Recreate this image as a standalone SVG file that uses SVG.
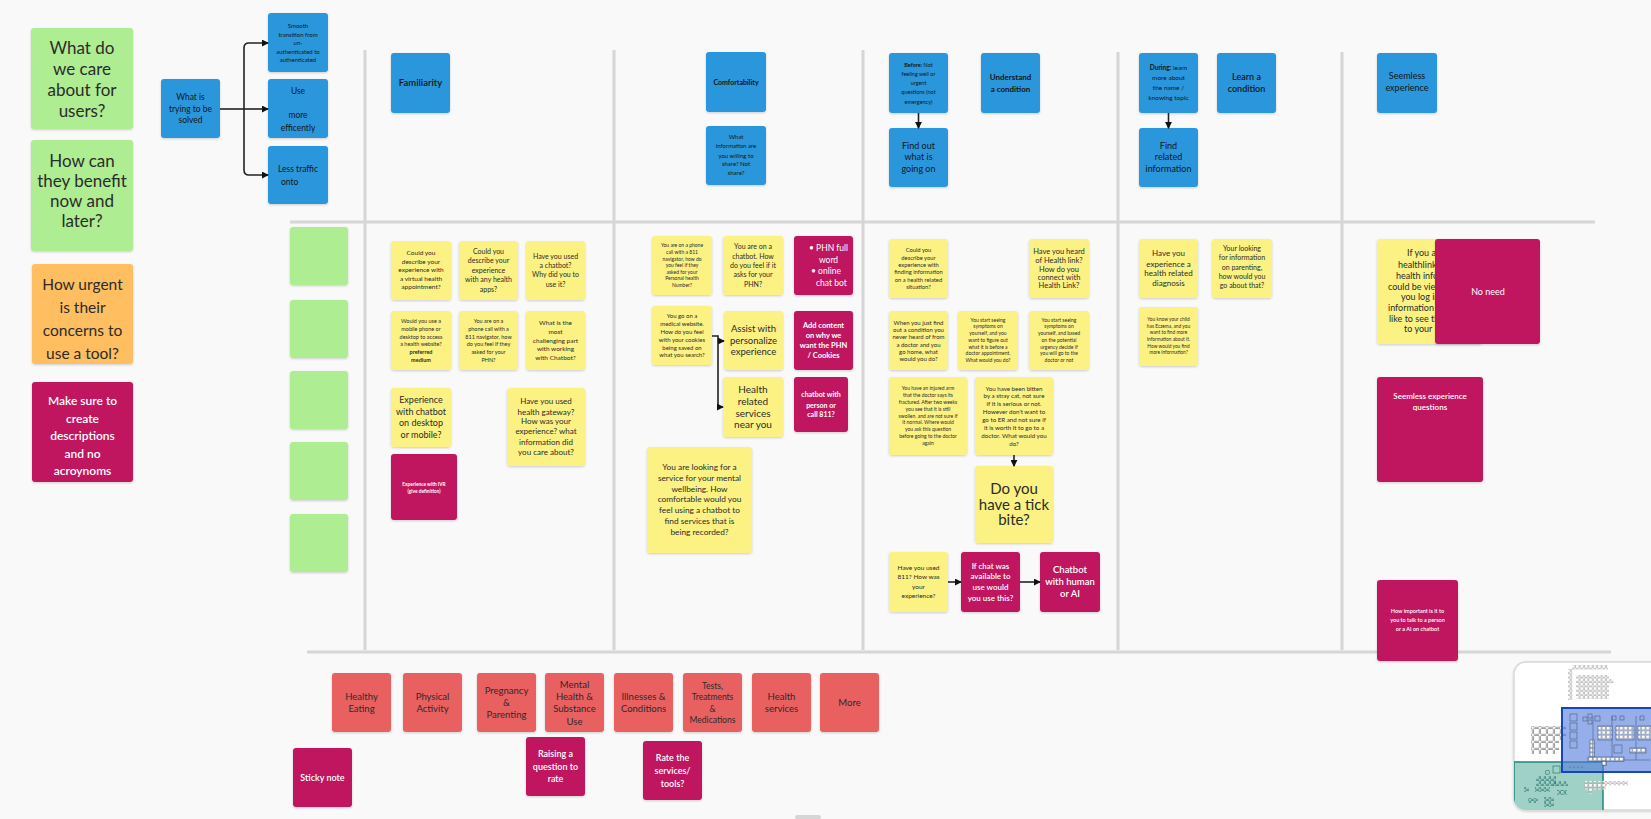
<svg xmlns="http://www.w3.org/2000/svg" width="1651" height="819" viewBox="0 0 1651 819">
<defs>
<filter id="sh" x="-10%" y="-10%" width="130%" height="130%"><feDropShadow dx="0" dy="1" stdDeviation="1.2" flood-color="#000" flood-opacity="0.18"/></filter>
<marker id="ah" viewBox="0 0 8 8" refX="7" refY="4" markerWidth="7" markerHeight="7" markerUnits="userSpaceOnUse" orient="auto"><path d="M0,0 L8,4 L0,8 z" fill="#111"/></marker>
<pattern id="sq" width="4.4" height="4.4" patternUnits="userSpaceOnUse"><rect x="0.4" y="0.4" width="3.4" height="3.4" rx="0.6" fill="#fff" stroke="#888" stroke-width="0.5"/></pattern>
<pattern id="sqb" width="7" height="7" patternUnits="userSpaceOnUse"><rect x="0.5" y="0.5" width="5.8" height="5.8" rx="1" fill="#fff" stroke="#777" stroke-width="0.7"/></pattern>
<pattern id="sqg" width="5" height="5" patternUnits="userSpaceOnUse"><rect x="0.5" y="0.5" width="3.8" height="3.8" rx="0.8" fill="none" stroke="#2f7a70" stroke-width="0.7"/></pattern>
<clipPath id="mm"><rect x="1514" y="662" width="160" height="148" rx="12"/></clipPath>
</defs>
<style>
text{font-family:Lato,"Liberation Sans",sans-serif;text-anchor:middle;fill:#2b2b2b}
.n rect{filter:url(#sh)}
.b{fill:#2997dc}.y{fill:#fcf283}.m{fill:#c0195e}.g{fill:#aeed91}.o{fill:#ffbe5f}.r{fill:#e96060}
.w{fill:#fff}
.k{fill:#151515}
.bd{font-weight:700}
.md{font-weight:600}
.ln{stroke:#d6d6d6;stroke-width:3;fill:none}
.c{stroke:#222;stroke-width:1.6;fill:none}
.ca{stroke:#222;stroke-width:1.6;fill:none;marker-end:url(#ah)}
</style>
<rect x="0" y="0" width="1651" height="819" fill="#f9f9f9"/>

<g id="lanes">
<path class="ln" d="M290,222 H1595"/>
<path class="ln" d="M307,652 H1611"/>
<path class="ln" d="M365,50 V650"/>
<path class="ln" d="M614,50 V650"/>
<path class="ln" d="M863,50 V650"/>
<path class="ln" d="M1118,52 V650"/>
<path class="ln" d="M1342,52 V650"/>
</g>

<g id="left-column" class="n">
<g id="care"><rect class="g" x="31" y="28" width="102" height="101" rx="3"/><text font-size="17"><tspan x="82" y="54">What do</tspan><tspan x="82" y="75">we care</tspan><tspan x="82" y="96">about for</tspan><tspan x="82" y="117">users?</tspan></text></g>
<g id="benefit"><rect class="g" x="31" y="140" width="102" height="111" rx="3"/><text font-size="17"><tspan x="82" y="167">How can</tspan><tspan x="82" y="187">they benefit</tspan><tspan x="82" y="207">now and</tspan><tspan x="82" y="227">later?</tspan></text></g>
<g id="urgent"><rect class="o" x="32" y="264" width="101" height="100" rx="3"/><text font-size="15.5"><tspan x="82.5" y="289.5">How urgent</tspan><tspan x="82.5" y="313">is their</tspan><tspan x="82.5" y="336">concerns to</tspan><tspan x="82.5" y="359">use a tool?</tspan></text></g>
<g id="make-sure"><rect class="m" x="32" y="382" width="101" height="100" rx="3"/><text class="w md" font-size="12"><tspan x="82.5" y="405">Make sure to</tspan><tspan x="82.5" y="423">create</tspan><tspan x="82.5" y="440">descriptions</tspan><tspan x="82.5" y="458">and no</tspan><tspan x="82.5" y="475">acroynoms</tspan></text></g>
</g>

<g id="solved-group" class="n">
<g id="solved"><rect class="b" x="161" y="79" width="59" height="59" rx="3"/><text class="k" font-size="8.5"><tspan x="190.5" y="100">What is</tspan><tspan x="190.5" y="112">trying to be</tspan><tspan x="190.5" y="123">solved</tspan></text></g>
<g id="smooth"><rect class="b" x="268" y="13" width="60" height="59" rx="3"/><text class="k" font-size="6"><tspan x="298" y="28">Smooth</tspan><tspan x="298" y="36.5">transition from</tspan><tspan x="298" y="45">un-</tspan><tspan x="298" y="53.5">authenticated to</tspan><tspan x="298" y="62">authenticated</tspan></text></g>
<g id="use"><rect class="b" x="268" y="79" width="60" height="59" rx="3"/><text class="k" font-size="8.5"><tspan x="298" y="94">Use</tspan><tspan x="298" y="118">more</tspan><tspan x="298" y="131">efficently</tspan></text></g>
<g id="traffic"><rect class="b" x="268" y="146" width="60" height="58" rx="3"/><text class="k" font-size="8.5"><tspan x="298" y="172">Less traffic</tspan><tspan x="281" y="185" style="text-anchor:start">onto</tspan></text></g>
</g>

<g id="left-stickies" class="n">
<rect id="gs1" class="g" x="290" y="227" width="58" height="58" rx="3"/>
<rect id="gs2" class="g" x="290" y="300" width="58" height="58" rx="3"/>
<rect id="gs3" class="g" x="290" y="371" width="58" height="58" rx="3"/>
<rect id="gs4" class="g" x="290" y="442" width="58" height="58" rx="3"/>
<rect id="gs5" class="g" x="290" y="514" width="58" height="58" rx="3"/>
</g>

<g id="headers" class="n">
<g id="familiarity"><rect class="b" x="391" y="53" width="59" height="60" rx="3"/><text class="k md" font-size="9.5" x="420.5" y="86">Familiarity</text></g>
<g id="comfortability"><rect class="b" x="706" y="52" width="60" height="60" rx="3"/><text class="k bd" font-size="7" x="736" y="84.5">Comfortability</text></g>
<g id="what-info"><rect class="b" x="706" y="126" width="60" height="59" rx="3"/><text class="k" font-size="6"><tspan x="736" y="139">What</tspan><tspan x="736" y="148">information are</tspan><tspan x="736" y="158">you willing to</tspan><tspan x="736" y="166">share? Not</tspan><tspan x="736" y="175">share?</tspan></text></g>
<g id="before"><rect class="b" x="889" y="53" width="59" height="60" rx="3"/><text class="k" font-size="5.5"><tspan x="918.5" y="66.6"><tspan class="bd">Before:</tspan> Not</tspan><tspan x="918.5" y="75.7">feeling well or</tspan><tspan x="918.5" y="85.1">urgent</tspan><tspan x="918.5" y="94.1">questions (not</tspan><tspan x="918.5" y="104.2">emergency)</tspan></text></g>
<g id="understand"><rect class="b" x="981" y="53" width="59" height="60" rx="3"/><text class="k bd" font-size="8"><tspan x="1010.5" y="79.6">Understand</tspan><tspan x="1010.5" y="91.7">a condition</tspan></text></g>
<g id="during"><rect class="b" x="1139" y="53" width="59" height="60" rx="3"/><text class="k" font-size="6.5"><tspan x="1168.5" y="69.7"><tspan class="bd">During:</tspan> learn</tspan><tspan x="1168.5" y="79.7">more about</tspan><tspan x="1168.5" y="89.8">the name /</tspan><tspan x="1168.5" y="99.9">knowing topic</tspan></text></g>
<g id="learn"><rect class="b" x="1217" y="53" width="59" height="60" rx="3"/><text class="k md" font-size="9"><tspan x="1246.5" y="80">Learn a</tspan><tspan x="1246.5" y="92">condition</tspan></text></g>
<g id="seemless"><rect class="b" x="1377" y="53" width="60" height="60" rx="3"/><text class="k" font-size="9"><tspan x="1407" y="79">Seemless</tspan><tspan x="1407" y="91">experience</tspan></text></g>
<g id="find-out"><rect class="b" x="889" y="128" width="59" height="59" rx="3"/><text class="k" font-size="9"><tspan x="918.5" y="148.8">Find out</tspan><tspan x="918.5" y="160.4">what is</tspan><tspan x="918.5" y="172.1">going on</tspan></text></g>
<g id="find-related"><rect class="b" x="1139" y="128" width="59" height="59" rx="3"/><text class="k" font-size="9"><tspan x="1168.5" y="148.8">Find</tspan><tspan x="1168.5" y="160.4">related</tspan><tspan x="1168.5" y="172.1">information</tspan></text></g>
</g>

<g id="familiarity-notes" class="n">
<g id="virtual"><rect class="y" x="391" y="241" width="60" height="59" rx="3"/><text font-size="6.5"><tspan x="421" y="255">Could you</tspan><tspan x="421" y="264.3">describe your</tspan><tspan x="421" y="272.3">experience with</tspan><tspan x="421" y="281">a virtual health</tspan><tspan x="421" y="288.6">appointment?</tspan></text></g>
<g id="apps"><rect class="y" x="459" y="241" width="59" height="59" rx="3"/><text font-size="7"><tspan x="488.5" y="254.2">Could you</tspan><tspan x="488.5" y="263.2">describe your</tspan><tspan x="488.5" y="273.2">experience</tspan><tspan x="488.5" y="282.2">with any health</tspan><tspan x="488.5" y="291.5">apps?</tspan></text></g>
<g id="used-chatbot"><rect class="y" x="526" y="241" width="59" height="59" rx="3"/><text font-size="7"><tspan x="555.5" y="258.8">Have you used</tspan><tspan x="555.5" y="268.2">a chatbot?</tspan><tspan x="555.5" y="277.2">Why did you to</tspan><tspan x="555.5" y="286.8">use it?</tspan></text></g>
<g id="mobile"><rect class="y" x="391" y="311" width="60" height="59" rx="3"/><text font-size="5.5"><tspan x="421" y="322.6">Would you use a</tspan><tspan x="421" y="330.9">mobile phone or</tspan><tspan x="421" y="338.6">desktop to access</tspan><tspan x="421" y="346.2">a health website?</tspan><tspan x="421" y="353.9" class="bd">preferred</tspan><tspan x="421" y="361.6" class="bd">medium</tspan></text></g>
<g id="navigator"><rect class="y" x="459" y="311" width="59" height="59" rx="3"/><text font-size="5.5"><tspan x="488.5" y="322.6">You are on a</tspan><tspan x="488.5" y="330.9">phone call with a</tspan><tspan x="488.5" y="338.6">811 navigator, how</tspan><tspan x="488.5" y="346.2">do you feel if they</tspan><tspan x="488.5" y="353.9">asked for your</tspan><tspan x="488.5" y="361.6">PHN?</tspan></text></g>
<g id="challenging"><rect class="y" x="526" y="311" width="59" height="59" rx="3"/><text font-size="6.5"><tspan x="555.5" y="324.6">What is the</tspan><tspan x="555.5" y="334">most</tspan><tspan x="555.5" y="342.6">challenging part</tspan><tspan x="555.5" y="351">with working</tspan><tspan x="555.5" y="359.6">with Chatbot?</tspan></text></g>
<g id="desktop"><rect class="y" x="391" y="388" width="60" height="59" rx="3"/><text font-size="9"><tspan x="421" y="403.4">Experience</tspan><tspan x="421" y="415.1">with chatbot</tspan><tspan x="421" y="426.1">on desktop</tspan><tspan x="421" y="437.8">or mobile?</tspan></text></g>
<g id="gateway"><rect class="y" x="507" y="388" width="78" height="78" rx="3"/><text font-size="8"><tspan x="546" y="404.1">Have you used</tspan><tspan x="546" y="414.5">health gateway?</tspan><tspan x="546" y="424.1">How was your</tspan><tspan x="546" y="434.1">experience? what</tspan><tspan x="546" y="444.8">information did</tspan><tspan x="546" y="455.1">you care about?</tspan></text></g>
<g id="ivr"><rect class="m" x="391" y="454" width="66" height="66" rx="3"/><text class="w bd" font-size="4.8"><tspan x="424" y="485.7">Experience with IVR</tspan><tspan x="424" y="493">(give definition)</tspan></text></g>
</g>

<g id="comfort-notes" class="n">
<g id="personal-number"><rect class="y" x="652" y="236" width="60" height="59" rx="3"/><text font-size="5"><tspan x="682" y="246.7">You are on a phone</tspan><tspan x="682" y="253.7">call with a 811</tspan><tspan x="682" y="260.7">navigator, how do</tspan><tspan x="682" y="267.4">you feel if they</tspan><tspan x="682" y="273.7">asked for your</tspan><tspan x="682" y="280.4">Personal health</tspan><tspan x="682" y="287">Number?</tspan></text></g>
<g id="chatbot-phn"><rect class="y" x="723" y="236" width="60" height="59" rx="3"/><text font-size="7"><tspan x="753" y="249.2">You are on a</tspan><tspan x="753" y="259.2">chatbot. How</tspan><tspan x="753" y="268.2">do you feel if it</tspan><tspan x="753" y="277.2">asks for your</tspan><tspan x="753" y="286.8">PHN?</tspan></text></g>
<g id="phn-full"><rect class="m" x="794" y="236" width="59" height="59" rx="3"/><text class="w" font-size="8.5" style="text-anchor:start"><tspan x="809" y="251">• PHN full</tspan><tspan x="819" y="263">word</tspan><tspan x="811" y="274.3">• online</tspan><tspan x="816" y="285.7">chat bot</tspan></text></g>
<g id="cookies"><rect class="y" x="652" y="306" width="60" height="59" rx="3"/><text font-size="6"><tspan x="682" y="317.8">You go on a</tspan><tspan x="682" y="325.8">medical website.</tspan><tspan x="682" y="334.1">How do you feel</tspan><tspan x="682" y="342.1">with your cookies</tspan><tspan x="682" y="350.1">being saved on</tspan><tspan x="682" y="357.4">what you search?</tspan></text></g>
<g id="assist"><rect class="y" x="724" y="311" width="59" height="59" rx="3"/><text font-size="9.5"><tspan x="753.5" y="332.3">Assist with</tspan><tspan x="753.5" y="343.6">personalize</tspan><tspan x="753.5" y="355.3">experience</tspan></text></g>
<g id="add-content"><rect class="m" x="794" y="311" width="59" height="59" rx="3"/><text class="w bd" font-size="7.5"><tspan x="823.5" y="328">Add content</tspan><tspan x="823.5" y="338.3">on why we</tspan><tspan x="823.5" y="348.3">want the PHN</tspan><tspan x="823.5" y="358">/ Cookies</tspan></text></g>
<g id="services-near"><rect class="y" x="723" y="377" width="60" height="60" rx="3"/><text font-size="10"><tspan x="753" y="392.5">Health</tspan><tspan x="753" y="404.8">related</tspan><tspan x="753" y="416.5">services</tspan><tspan x="753" y="428.2">near you</tspan></text></g>
<g id="person-811"><rect class="m" x="794" y="377" width="54" height="55" rx="3"/><text class="w bd" font-size="7"><tspan x="821" y="396.8">chatbot with</tspan><tspan x="821" y="407.5">person or</tspan><tspan x="821" y="417.2">call 811?</tspan></text></g>
<g id="mental-wellbeing"><rect class="y" x="647" y="447" width="105" height="106" rx="3"/><text font-size="8.3"><tspan x="699.5" y="470.3">You are looking for a</tspan><tspan x="699.5" y="481">service for your mental</tspan><tspan x="699.5" y="491.7">wellbeing. How</tspan><tspan x="699.5" y="502.3">comfortable would you</tspan><tspan x="699.5" y="513.3">feel using a chatbot to</tspan><tspan x="699.5" y="524.3">find services that is</tspan><tspan x="699.5" y="535.3">being recorded?</tspan></text></g>
</g>

<g id="understand-notes" class="n">
<g id="finding-info"><rect class="y" x="889" y="239" width="59" height="59" rx="3"/><text font-size="5.8"><tspan x="918.5" y="252">Could you</tspan><tspan x="918.5" y="259.7">describe your</tspan><tspan x="918.5" y="267">experience with</tspan><tspan x="918.5" y="274.3">finding information</tspan><tspan x="918.5" y="281.7">on a health related</tspan><tspan x="918.5" y="289">situation?</tspan></text></g>
<g id="health-link"><rect class="y" x="1029" y="239" width="60" height="59" rx="3"/><text font-size="7.5"><tspan x="1059" y="253.6">Have you heard</tspan><tspan x="1059" y="262.6">of Health link?</tspan><tspan x="1059" y="271.6">How do you</tspan><tspan x="1059" y="279.6">connect with</tspan><tspan x="1059" y="288.3">Health Link?</tspan></text></g>
<g id="never-heard"><rect class="y" x="889" y="311" width="59" height="59" rx="3"/><text font-size="6"><tspan x="918.5" y="325.1">When you just find</tspan><tspan x="918.5" y="332.4">out a condition you</tspan><tspan x="918.5" y="339.4">never heard of from</tspan><tspan x="918.5" y="346.8">a doctor and you</tspan><tspan x="918.5" y="354.1">go home, what</tspan><tspan x="918.5" y="360.8">would you do?</tspan></text></g>
<g id="symptoms-1"><rect class="y" x="958" y="311" width="60" height="59" rx="3"/><text font-size="5"><tspan x="988" y="322">You start seeing</tspan><tspan x="988" y="328.4">symptoms on</tspan><tspan x="988" y="335.4">yourself, and you</tspan><tspan x="988" y="342">want to figure out</tspan><tspan x="988" y="348.7">what it is before a</tspan><tspan x="988" y="355.4">doctor appointment.</tspan><tspan x="988" y="362">What would you do?</tspan></text></g>
<g id="symptoms-2"><rect class="y" x="1029" y="311" width="60" height="59" rx="3"/><text font-size="5"><tspan x="1059" y="322">You start seeing</tspan><tspan x="1059" y="328.4">symptoms on</tspan><tspan x="1059" y="335.4">yourself, and based</tspan><tspan x="1059" y="342">on the potential</tspan><tspan x="1059" y="348.7">urgency decide if</tspan><tspan x="1059" y="355.4">you will go to the</tspan><tspan x="1059" y="362">doctor or not</tspan></text></g>
<g id="injured-arm"><rect class="y" x="889" y="377" width="78" height="78" rx="3"/><text font-size="5"><tspan x="928" y="390">You have an injured arm</tspan><tspan x="928" y="397">that the doctor says its</tspan><tspan x="928" y="404">fractured. After two weeks</tspan><tspan x="928" y="410.7">you see that it is still</tspan><tspan x="928" y="417.7">swollen. and are not sure if</tspan><tspan x="928" y="424.4">it normal. Where would</tspan><tspan x="928" y="431">you ask this question</tspan><tspan x="928" y="438">before going to the doctor</tspan><tspan x="928" y="445">again</tspan></text></g>
<g id="stray-cat"><rect class="y" x="975" y="377" width="78" height="78" rx="3"/><text font-size="6.2"><tspan x="1014" y="390.6">You have been bitten</tspan><tspan x="1014" y="398.3">by a stray cat, not sure</tspan><tspan x="1014" y="406.3">if it is serious or not.</tspan><tspan x="1014" y="414.3">However don't want to</tspan><tspan x="1014" y="422.3">go to ER and not sure if</tspan><tspan x="1014" y="430">it is worth it to go to a</tspan><tspan x="1014" y="437.6">doctor. What would you</tspan><tspan x="1014" y="445.6">do?</tspan></text></g>
<g id="tick-bite"><rect class="y" x="975" y="466" width="78" height="77" rx="3"/><text font-size="15"><tspan x="1014" y="494.3">Do you</tspan><tspan x="1014" y="509.6">have a tick</tspan><tspan x="1014" y="525.3">bite?</tspan></text></g>
<g id="used-811"><rect class="y" x="889" y="552" width="59" height="60" rx="3"/><text font-size="6.5"><tspan x="918.5" y="570">Have you used</tspan><tspan x="918.5" y="579.3">811? How was</tspan><tspan x="918.5" y="589">your</tspan><tspan x="918.5" y="597.6">experience?</tspan></text></g>
<g id="if-chat"><rect class="m" x="961" y="552" width="59" height="60" rx="3"/><text class="w md" font-size="8"><tspan x="990.5" y="568.8">If chat was</tspan><tspan x="990.5" y="578.8">available to</tspan><tspan x="990.5" y="589.8">use would</tspan><tspan x="990.5" y="600.5">you use this?</tspan></text></g>
<g id="human-ai"><rect class="m" x="1040" y="552" width="60" height="60" rx="3"/><text class="w md" font-size="9.5"><tspan x="1070" y="573">Chatbot</tspan><tspan x="1070" y="585.3">with human</tspan><tspan x="1070" y="597.3">or AI</tspan></text></g>
</g>

<g id="learn-notes" class="n">
<g id="diagnosis"><rect class="y" x="1139" y="239" width="59" height="59" rx="3"/><text font-size="8"><tspan x="1168.5" y="256.1">Have you</tspan><tspan x="1168.5" y="266.5">experience a</tspan><tspan x="1168.5" y="276.1">health related</tspan><tspan x="1168.5" y="286.1">diagnosis</tspan></text></g>
<g id="parenting"><rect class="y" x="1212" y="239" width="60" height="59" rx="3"/><text font-size="7"><tspan x="1242" y="251.2">Your looking</tspan><tspan x="1242" y="259.8">for information</tspan><tspan x="1242" y="269.5">on parenting,</tspan><tspan x="1242" y="279.2">how would you</tspan><tspan x="1242" y="288.2">go about that?</tspan></text></g>
<g id="eczema"><rect class="y" x="1139" y="307" width="59" height="59" rx="3"/><text font-size="4.8"><tspan x="1168.5" y="321">You know your child</tspan><tspan x="1168.5" y="327.7">has Eczema, and you</tspan><tspan x="1168.5" y="334.4">want to find more</tspan><tspan x="1168.5" y="340.7">information about it.</tspan><tspan x="1168.5" y="348">How would you find</tspan><tspan x="1168.5" y="354">more information?</tspan></text></g>
</g>

<g id="seemless-notes" class="n">
<g id="healthlink-profile"><rect class="y" x="1377" y="239" width="105" height="105" rx="3"/><text font-size="9" style="text-anchor:start"><tspan x="1407" y="256">If you a</tspan><tspan x="1398" y="268">healthlink</tspan><tspan x="1396" y="279">health info</tspan><tspan x="1388" y="290">could be vie</tspan><tspan x="1401" y="300">you log in</tspan><tspan x="1388" y="311">information w</tspan><tspan x="1389" y="322">like to see th</tspan><tspan x="1404" y="332">to your</tspan></text></g>
<g id="no-need"><rect class="m" x="1435" y="239" width="105" height="105" rx="3"/><text class="w" font-size="9" x="1488" y="295">No need</text></g>
<g id="seemless-questions"><rect class="m" x="1377" y="377" width="106" height="105" rx="3"/><text class="w md" font-size="8"><tspan x="1430" y="399">Seemless experience</tspan><tspan x="1430" y="410">questions</tspan></text></g>
<g id="person-or-ai"><rect class="m" x="1377" y="580" width="81" height="81" rx="3"/><text class="w md" font-size="5.5"><tspan x="1417.5" y="613.2">How important is it to</tspan><tspan x="1417.5" y="622.2">you to talk to a person</tspan><tspan x="1417.5" y="631.2">or a AI on chatbot</tspan></text></g>
</g>

<g id="topics" class="n">
<g id="healthy-eating"><rect class="r" x="332" y="673" width="59" height="59" rx="3"/><text font-size="9.5"><tspan x="361.5" y="700">Healthy</tspan><tspan x="361.5" y="712.3">Eating</tspan></text></g>
<g id="physical-activity"><rect class="r" x="403" y="673" width="59" height="59" rx="3"/><text font-size="9.5"><tspan x="432.5" y="700">Physical</tspan><tspan x="432.5" y="712.3">Activity</tspan></text></g>
<g id="pregnancy"><rect class="r" x="477" y="673" width="59" height="59" rx="3"/><text font-size="9.5"><tspan x="506.5" y="694">Pregnancy</tspan><tspan x="506.5" y="705.6">&amp;</tspan><tspan x="506.5" y="718">Parenting</tspan></text></g>
<g id="mental-health"><rect class="r" x="545" y="673" width="59" height="59" rx="3"/><text font-size="9.5"><tspan x="574.5" y="687.6">Mental</tspan><tspan x="574.5" y="700">Health &amp;</tspan><tspan x="574.5" y="712.3">Substance</tspan><tspan x="574.5" y="724.6">Use</tspan></text></g>
<g id="illnesses"><rect class="r" x="614" y="673" width="59" height="59" rx="3"/><text font-size="9.5"><tspan x="643.5" y="700">Illnesses &amp;</tspan><tspan x="643.5" y="712.3">Conditions</tspan></text></g>
<g id="tests"><rect class="r" x="683" y="673" width="59" height="59" rx="3"/><text font-size="8.5"><tspan x="712.5" y="689">Tests,</tspan><tspan x="712.5" y="699.7">Treatments</tspan><tspan x="712.5" y="712">&amp;</tspan><tspan x="712.5" y="723">Medications</tspan></text></g>
<g id="health-services"><rect class="r" x="752" y="673" width="59" height="59" rx="3"/><text font-size="9.5"><tspan x="781.5" y="700">Health</tspan><tspan x="781.5" y="712.3">services</tspan></text></g>
<g id="more"><rect class="r" x="820" y="673" width="59" height="59" rx="3"/><text font-size="9.5" x="849.5" y="706">More</text></g>
<g id="sticky-note"><rect class="m" x="293" y="748" width="59" height="59" rx="3"/><text class="w md" font-size="9" x="322.5" y="781">Sticky note</text></g>
<g id="raising"><rect class="m" x="526" y="737" width="59" height="59" rx="3"/><text class="w md" font-size="9"><tspan x="555.5" y="757.2">Raising a</tspan><tspan x="555.5" y="770.2">question to</tspan><tspan x="555.5" y="782.2">rate</tspan></text></g>
<g id="rate"><rect class="m" x="643" y="741" width="59" height="59" rx="3"/><text class="w md" font-size="9"><tspan x="672.5" y="760.9">Rate the</tspan><tspan x="672.5" y="773.9">services/</tspan><tspan x="672.5" y="786.5">tools?</tspan></text></g>
</g>

<g id="connectors">
<path class="c" d="M220,109 H244" stroke-width="2.2"/>
<path class="c" d="M244,48 V170" stroke="#555"/>
<path class="ca" d="M244,48 Q244,43 249,43 H268" stroke="#555"/>
<path class="ca" d="M244,109 H268" stroke="#555"/>
<path class="ca" d="M244,170 Q244,175 249,175 H268" stroke="#555"/>
<path class="ca" d="M918.5,113 V128"/>
<path class="ca" d="M1168.5,113 V128"/>
<path class="ca" d="M712,336 H718 V341 H724"/>
<path class="ca" d="M718,341 V407 H723"/>
<path class="ca" d="M1014,455 V466"/>
<path class="ca" d="M948,582 H961" stroke="#555"/>
<path class="ca" d="M1020,582 H1040" stroke="#555"/>
</g>

<g id="minimap">
<rect x="1514" y="662" width="160" height="148" rx="12" fill="#fff" stroke="#d8d8d8" stroke-width="1.5" filter="url(#sh)"/>
<g clip-path="url(#mm)">
<rect x="1572" y="665" width="36" height="4.4" fill="url(#sq)"/>
<rect x="1568" y="669" width="4.4" height="31" fill="url(#sq)"/>
<rect x="1576" y="675" width="33" height="24" fill="url(#sq)"/>
<rect x="1609" y="679" width="4.4" height="4.4" fill="url(#sq)"/>
<rect x="1531" y="726" width="28" height="28" fill="url(#sqb)"/>
<rect x="1559" y="726" width="7" height="14" fill="url(#sqb)"/>
<rect x="1514" y="762" width="89" height="60" fill="#9fd1c7" stroke="#23857f" stroke-width="1.5"/>
<rect x="1562" y="708" width="100" height="64" fill="#5079dc" fill-opacity="0.6" stroke="#1646b8" stroke-width="2"/>
<g fill="none" stroke="#4a5a80" stroke-width="0.6">
<rect x="1570" y="714" width="7" height="7"/><rect x="1570" y="723" width="7" height="7"/><rect x="1570" y="732" width="7" height="7"/><rect x="1570" y="741" width="7" height="7"/>
<rect x="1583" y="717" width="4" height="4"/><rect x="1588" y="714" width="4" height="4"/><rect x="1588" y="720" width="4" height="4"/><rect x="1595" y="716" width="5" height="5"/>
<path d="M1593,716 V760 M1612,716 V760 M1636,716 V760 M1593,760 H1650"/>
<rect x="1598" y="726" width="14" height="14" fill="url(#sq)"/>
<rect x="1616" y="726" width="18" height="14" fill="url(#sq)"/>
<rect x="1638" y="726" width="14" height="14" fill="url(#sq)"/>
<rect x="1590" y="740" width="4.4" height="18" fill="url(#sq)"/>
<rect x="1614" y="745" width="8" height="8"/>
<rect x="1630" y="748" width="16" height="5" fill="url(#sq)"/>
<rect x="1612" y="716" width="4" height="4"/><rect x="1620" y="716" width="4" height="4"/><rect x="1640" y="716" width="4" height="4"/>
<rect x="1588" y="757" width="36" height="4.4" fill="url(#sq)"/>
<rect x="1602" y="761" width="4.4" height="4.4" fill="url(#sq)"/>
</g>
<rect x="1536" y="776" width="20" height="10" fill="url(#sqg)"/>
<rect x="1545" y="770" width="5" height="5" fill="url(#sqg)"/>
<rect x="1553" y="781" width="15" height="5" fill="url(#sqg)"/>
<rect x="1524" y="787" width="5" height="5" fill="url(#sqg)"/>
<rect x="1535" y="787" width="15" height="5" fill="url(#sqg)"/>
<rect x="1557" y="790" width="10" height="5" fill="url(#sqg)"/>
<rect x="1528" y="798" width="10" height="5" fill="url(#sqg)"/>
<rect x="1544" y="797" width="10" height="10" fill="url(#sqg)"/>
<rect x="1553" y="766" width="7" height="7" fill="none" stroke="#2f7a70" stroke-width="0.7"/>
<rect x="1584" y="781" width="44" height="4.4" fill="url(#sq)"/>
<rect x="1584" y="785" width="22" height="4.4" fill="url(#sq)"/>
<rect x="1587" y="789" width="5" height="4.4" fill="url(#sq)"/>
<circle cx="1570" cy="767" r="0.6" fill="#555"/><circle cx="1574" cy="767" r="0.6" fill="#555"/><circle cx="1578" cy="767" r="0.6" fill="#555"/><circle cx="1582" cy="767" r="0.6" fill="#555"/>
</g>
</g>
<rect x="795" y="815" width="26" height="4" rx="2" fill="#d6d6d6"/>
</svg>
